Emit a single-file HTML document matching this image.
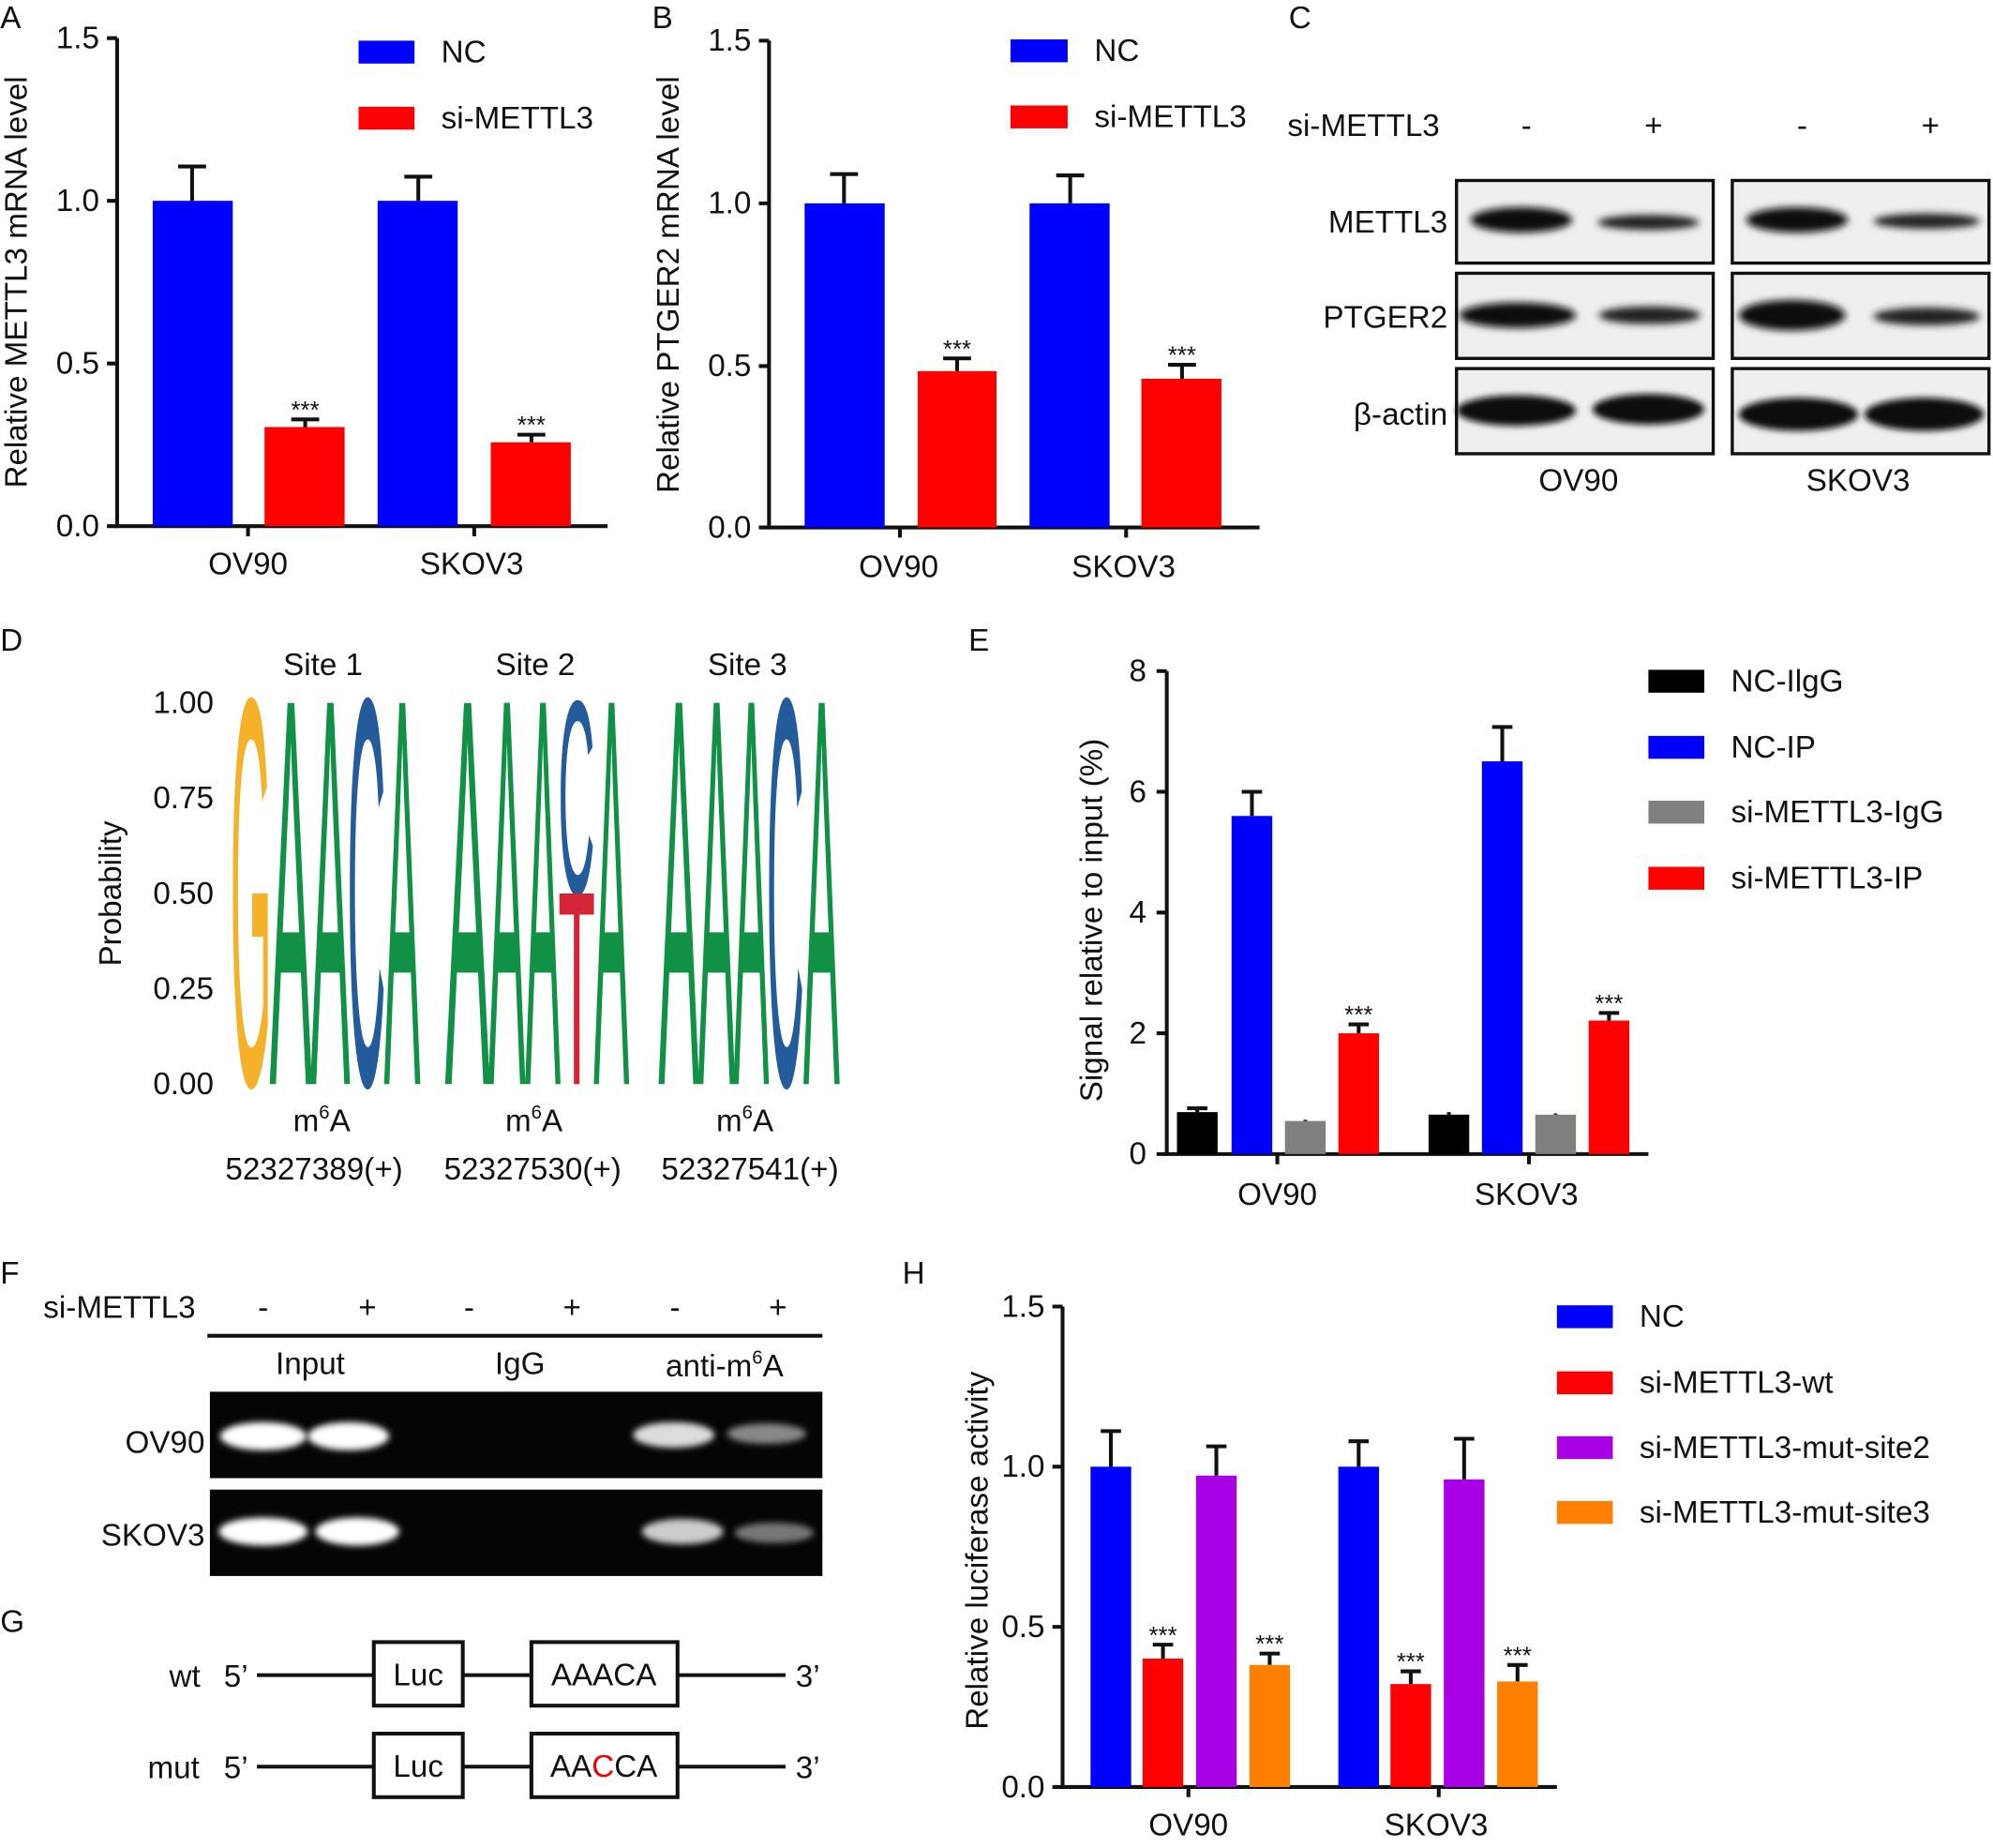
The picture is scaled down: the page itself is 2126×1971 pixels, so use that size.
<!DOCTYPE html>
<html><head><meta charset="utf-8"><style>
html,body{margin:0;padding:0;background:#fff}
svg{display:block}
text{font-family:"Liberation Sans",Arial,sans-serif;fill:#111}
</style></head><body>
<svg width="2126" height="1971" viewBox="0 0 1568 1454" xmlns="http://www.w3.org/2000/svg">
<defs>
<filter id="b1" x="-20%" y="-60%" width="140%" height="220%"><feGaussianBlur stdDeviation="3"/></filter>
<filter id="b2" x="-20%" y="-60%" width="140%" height="220%"><feGaussianBlur stdDeviation="2.5"/></filter>
</defs>
<g font-size="24.5">
<!-- Panel A -->
<text x="0" y="22">A</text>
<g stroke="#111" stroke-width="3" fill="none">
<path d="M92 30V414H478"/>
<path d="M84 30H92M84 158H92M84 286H92M84 414H92M195 414V422M373 414V422"/>
</g>
<g text-anchor="end"><text x="78" y="38">1.5</text><text x="78" y="166">1.0</text><text x="78" y="294">0.5</text><text x="78" y="422">0.0</text></g>
<text transform="translate(21,222) rotate(-90)" text-anchor="middle">Relative METTL3 mRNA level</text>
<g stroke="#111" stroke-width="3"><path d="M151 158V131M140 131H162M329 158V139M318 139H340M240 336V330M229 330H251M418 348V342M407 342H429"/></g>
<rect x="120" y="158" width="63" height="256" fill="#0000ff"/>
<rect x="208" y="336" width="63" height="78" fill="#ff0000"/>
<rect x="297" y="158" width="63" height="256" fill="#0000ff"/>
<rect x="386" y="348" width="63" height="66" fill="#ff0000"/>
<text x="240" y="329" text-anchor="middle" font-size="19">***</text>
<text x="418" y="341" text-anchor="middle" font-size="19">***</text>
<text x="195" y="452" text-anchor="middle">OV90</text><text x="371" y="452" text-anchor="middle">SKOV3</text>
<rect x="282" y="32" width="44" height="18" fill="#0000ff"/><text x="347" y="49">NC</text>
<rect x="282" y="84" width="44" height="18" fill="#ff0000"/><text x="347" y="101">si-METTL3</text>

<!-- Panel B -->
<text x="513" y="22">B</text>
<g stroke="#111" stroke-width="3" fill="none">
<path d="M605 32V415H991"/>
<path d="M597 32H605M597 160H605M597 288H605M597 415H605M708 415V423M886 415V423"/>
</g>
<g text-anchor="end"><text x="591" y="40">1.5</text><text x="591" y="168">1.0</text><text x="591" y="296">0.5</text><text x="591" y="423">0.0</text></g>
<text transform="translate(534,224) rotate(-90)" text-anchor="middle">Relative PTGER2 mRNA level</text>
<g stroke="#111" stroke-width="3"><path d="M664 160V137M653 137H675M842 160V138M831 138H853M753 292V282M742 282H764M930 298V287M919 287H941"/></g>
<rect x="633" y="160" width="63" height="255" fill="#0000ff"/>
<rect x="722" y="292" width="62" height="123" fill="#ff0000"/>
<rect x="810" y="160" width="63" height="255" fill="#0000ff"/>
<rect x="898" y="298" width="63" height="117" fill="#ff0000"/>
<text x="753" y="281" text-anchor="middle" font-size="19">***</text>
<text x="930" y="286" text-anchor="middle" font-size="19">***</text>
<text x="707" y="454" text-anchor="middle">OV90</text><text x="884" y="454" text-anchor="middle">SKOV3</text>
<rect x="795" y="31" width="45" height="18" fill="#0000ff"/><text x="861" y="48">NC</text>
<rect x="795" y="83" width="45" height="18" fill="#ff0000"/><text x="861" y="100">si-METTL3</text>

<!-- Panel C -->
<text x="1014" y="22">C</text>
<text x="1013" y="107">si-METTL3</text>
<text x="1201" y="107" text-anchor="middle">-</text><text x="1301" y="107" text-anchor="middle">+</text>
<text x="1418" y="107" text-anchor="middle">-</text><text x="1519" y="107" text-anchor="middle">+</text>
<g text-anchor="end"><text x="1139" y="183">METTL3</text><text x="1139" y="258">PTGER2</text><text x="1139" y="334">β-actin</text></g>
<g fill="#efefef" stroke="#111" stroke-width="2.5">
<rect x="1146" y="142" width="202" height="65"/><rect x="1363" y="142" width="202" height="65"/>
<rect x="1146" y="215" width="202" height="67"/><rect x="1363" y="215" width="202" height="67"/>
<rect x="1146" y="290" width="202" height="67"/><rect x="1363" y="290" width="202" height="67"/>
</g>
<g fill="#111">
<ellipse cx="1197" cy="173" rx="40" ry="10" filter="url(#b1)"/>
<ellipse cx="1297" cy="175" rx="40" ry="6" filter="url(#b1)" fill="#222"/>
<ellipse cx="1414" cy="173" rx="40" ry="10" filter="url(#b1)"/>
<ellipse cx="1516" cy="174" rx="42" ry="6" filter="url(#b1)" fill="#222"/>
<ellipse cx="1194" cy="248" rx="46" ry="10" filter="url(#b1)"/>
<ellipse cx="1298" cy="248" rx="40" ry="7" filter="url(#b1)" fill="#222"/>
<ellipse cx="1410" cy="248" rx="42" ry="12" filter="url(#b1)"/>
<ellipse cx="1516" cy="249" rx="42" ry="7" filter="url(#b1)" fill="#222"/>
<ellipse cx="1193" cy="323" rx="47" ry="12" filter="url(#b2)"/>
<ellipse cx="1297" cy="322" rx="44" ry="12" filter="url(#b2)"/>
<ellipse cx="1415" cy="326" rx="47" ry="13" filter="url(#b2)"/>
<ellipse cx="1514" cy="326" rx="47" ry="13" filter="url(#b2)"/>
</g>
<text x="1242" y="386" text-anchor="middle">OV90</text><text x="1462" y="386" text-anchor="middle">SKOV3</text>

<!-- Panel D -->
<text x="0" y="512">D</text>
<g text-anchor="middle"><text x="254" y="531">Site 1</text><text x="421" y="531">Site 2</text><text x="588" y="531">Site 3</text></g>
<g text-anchor="end"><text x="168" y="561">1.00</text><text x="168" y="636">0.75</text><text x="168" y="711">0.50</text><text x="168" y="786">0.25</text><text x="168" y="861">0.00</text></g>
<text transform="translate(95,703) rotate(-90)" text-anchor="middle">Probability</text>
<g font-size="100">
<text transform="translate(181,853) scale(0.42,4.36)" style="fill:#f6b12a">G</text>
<text transform="translate(212,853) scale(0.50,4.36)" style="fill:#109146">A</text>
<text transform="translate(244,853) scale(0.47,4.36)" style="fill:#109146">A</text>
<text transform="translate(273,853) scale(0.42,4.36)" style="fill:#245b9b">C</text>
<text transform="translate(302,853) scale(0.43,4.36)" style="fill:#109146">A</text>
<text transform="translate(350,853) scale(0.53,4.36)" style="fill:#109146">A</text>
<text transform="translate(384,853) scale(0.44,4.36)" style="fill:#109146">A</text>
<text transform="translate(413,853) scale(0.42,4.36)" style="fill:#109146">A</text>
<text transform="translate(439,703) scale(0.40,2.18)" style="fill:#245b9b">C</text>
<text transform="translate(439,853) scale(0.48,2.18)" style="fill:#d42536">T</text>
<text transform="translate(467,853) scale(0.42,4.36)" style="fill:#109146">A</text>
<text transform="translate(518,853) scale(0.48,4.36)" style="fill:#109146">A</text>
<text transform="translate(549,853) scale(0.44,4.36)" style="fill:#109146">A</text>
<text transform="translate(577,853) scale(0.42,4.36)" style="fill:#109146">A</text>
<text transform="translate(603,853) scale(0.41,4.36)" style="fill:#245b9b">C</text>
<text transform="translate(632,853) scale(0.43,4.36)" style="fill:#109146">A</text>
</g>
<g text-anchor="middle">
<text x="253" y="890">m<tspan font-size="15" dy="-10">6</tspan><tspan dy="10">A</tspan></text>
<text x="420" y="890">m<tspan font-size="15" dy="-10">6</tspan><tspan dy="10">A</tspan></text>
<text x="586" y="890">m<tspan font-size="15" dy="-10">6</tspan><tspan dy="10">A</tspan></text>
<text x="247" y="928">52327389(+)</text><text x="419" y="928">52327530(+)</text><text x="590" y="928">52327541(+)</text>
</g>

<!-- Panel E -->
<text x="762" y="512">E</text>
<g stroke="#111" stroke-width="3" fill="none">
<path d="M918 528V908H1297"/>
<path d="M910 528H918M910 623H918M910 718H918M910 813H918M910 908H918M1005 908V916M1203 908V916"/>
</g>
<g text-anchor="end"><text x="902" y="536">8</text><text x="902" y="631">6</text><text x="902" y="726">4</text><text x="902" y="821">2</text><text x="902" y="916">0</text></g>
<text transform="translate(867,724) rotate(-90)" text-anchor="middle">Signal relative to input (%)</text>
<g stroke="#111" stroke-width="3"><path d="M942 875V872M934 872H950M985 642V623M977 623H993M1027 882V881M1069 813V806M1061 806H1077M1140 877V875M1182 599V572M1174 572H1190M1224 877V876M1266 803V797M1258 797H1274"/></g>
<rect x="926" y="875" width="32" height="33" fill="#000"/>
<rect x="969" y="642" width="32" height="266" fill="#0000ff"/>
<rect x="1011" y="882" width="32" height="26" fill="#808080"/>
<rect x="1053" y="813" width="32" height="95" fill="#ff0000"/>
<rect x="1124" y="877" width="32" height="31" fill="#000"/>
<rect x="1166" y="599" width="32" height="309" fill="#0000ff"/>
<rect x="1208" y="877" width="32" height="31" fill="#808080"/>
<rect x="1250" y="803" width="32" height="105" fill="#ff0000"/>
<text x="1069" y="805" text-anchor="middle" font-size="19">***</text>
<text x="1266" y="796" text-anchor="middle" font-size="19">***</text>
<text x="1005" y="948" text-anchor="middle">OV90</text><text x="1201" y="948" text-anchor="middle">SKOV3</text>
<rect x="1297" y="527" width="44" height="18" fill="#000"/><text x="1362" y="544">NC-IlgG</text>
<rect x="1297" y="579" width="44" height="18" fill="#0000ff"/><text x="1362" y="596">NC-IP</text>
<rect x="1297" y="630" width="44" height="18" fill="#808080"/><text x="1362" y="647">si-METTL3-IgG</text>
<rect x="1297" y="682" width="44" height="18" fill="#ff0000"/><text x="1362" y="699">si-METTL3-IP</text>

<!-- Panel F -->
<text x="0" y="1010">F</text>
<text x="34" y="1037">si-METTL3</text>
<g text-anchor="middle"><text x="207" y="1037">-</text><text x="289" y="1037">+</text><text x="369" y="1037">-</text><text x="450" y="1037">+</text><text x="531" y="1037">-</text><text x="612" y="1037">+</text></g>
<path d="M163 1051H647" stroke="#111" stroke-width="3"/>
<g text-anchor="middle"><text x="244" y="1081">Input</text><text x="409" y="1081">IgG</text>
<text x="570" y="1083">anti-m<tspan font-size="15" dy="-10">6</tspan><tspan dy="10">A</tspan></text></g>
<g text-anchor="end"><text x="161" y="1143">OV90</text><text x="161" y="1216">SKOV3</text></g>
<rect x="165" y="1095" width="482" height="68" fill="#050505"/>
<rect x="165" y="1172" width="482" height="68" fill="#050505"/>
<g fill="#fff">
<ellipse cx="207" cy="1130" rx="34" ry="11" filter="url(#b2)"/>
<ellipse cx="274" cy="1130" rx="32" ry="11" filter="url(#b2)"/>
<ellipse cx="530" cy="1129" rx="32" ry="10" filter="url(#b2)" fill="#ddd"/>
<ellipse cx="603" cy="1128" rx="31" ry="8" filter="url(#b2)" fill="#888"/>
<ellipse cx="207" cy="1205" rx="35" ry="11" filter="url(#b2)"/>
<ellipse cx="281" cy="1205" rx="33" ry="11" filter="url(#b2)"/>
<ellipse cx="537" cy="1205" rx="32" ry="10" filter="url(#b2)" fill="#ccc"/>
<ellipse cx="609" cy="1206" rx="31" ry="8" filter="url(#b2)" fill="#777"/>
</g>

<!-- Panel G -->
<text x="0" y="1284">G</text>
<g stroke="#111" stroke-width="3" fill="none">
<path d="M202 1318H294M364 1318H418M533 1318H618M202 1390H294M364 1390H418M533 1390H618"/>
<rect x="294" y="1292" width="70" height="50"/><rect x="418" y="1292" width="115" height="50"/>
<rect x="294" y="1364" width="70" height="50"/><rect x="418" y="1364" width="115" height="50"/>
</g>
<text x="133" y="1327">wt</text><text x="176" y="1327">5’</text><text x="626" y="1327">3’</text>
<text x="116" y="1399">mut</text><text x="176" y="1399">5’</text><text x="626" y="1399">3’</text>
<g text-anchor="middle"><text x="329" y="1326">Luc</text><text x="475" y="1326">AAACA</text>
<text x="329" y="1398">Luc</text><text x="475" y="1398">AA<tspan style="fill:#e00">C</tspan>CA</text></g>

<!-- Panel H -->
<text x="710" y="1010">H</text>
<g stroke="#111" stroke-width="3" fill="none">
<path d="M836 1028V1406H1225"/>
<path d="M828 1028H836M828 1154H836M828 1280H836M828 1406H836M935 1406V1414M1132 1406V1414"/>
</g>
<g text-anchor="end"><text x="822" y="1036">1.5</text><text x="822" y="1162">1.0</text><text x="822" y="1288">0.5</text><text x="822" y="1414">0.0</text></g>
<text transform="translate(777,1220) rotate(-90)" text-anchor="middle">Relative luciferase activity</text>
<g stroke="#111" stroke-width="3"><path d="M874 1154V1126M866 1126H882M915 1305V1294M907 1294H923M957 1161V1138M949 1138H965M999 1310V1301M991 1301H1007M1069 1154V1134M1061 1134H1077M1110 1325V1315M1102 1315H1118M1152 1164V1132M1144 1132H1160M1194 1323V1310M1186 1310H1202"/></g>
<rect x="858" y="1154" width="32" height="252" fill="#0000ff"/>
<rect x="899" y="1305" width="32" height="101" fill="#ff0000"/>
<rect x="941" y="1161" width="32" height="245" fill="#aa00e6"/>
<rect x="983" y="1310" width="32" height="96" fill="#ff8000"/>
<rect x="1053" y="1154" width="32" height="252" fill="#0000ff"/>
<rect x="1094" y="1325" width="32" height="81" fill="#ff0000"/>
<rect x="1136" y="1164" width="32" height="242" fill="#aa00e6"/>
<rect x="1178" y="1323" width="32" height="83" fill="#ff8000"/>
<g text-anchor="middle" font-size="19"><text x="915" y="1293">***</text><text x="999" y="1300">***</text><text x="1110" y="1314">***</text><text x="1194" y="1309">***</text></g>
<text x="935" y="1444" text-anchor="middle">OV90</text><text x="1130" y="1444" text-anchor="middle">SKOV3</text>
<rect x="1225" y="1027" width="44" height="18" fill="#0000ff"/><text x="1290" y="1044">NC</text>
<rect x="1225" y="1079" width="44" height="18" fill="#ff0000"/><text x="1290" y="1096">si-METTL3-wt</text>
<rect x="1225" y="1130" width="44" height="18" fill="#aa00e6"/><text x="1290" y="1147">si-METTL3-mut-site2</text>
<rect x="1225" y="1181" width="44" height="18" fill="#ff8000"/><text x="1290" y="1198">si-METTL3-mut-site3</text>
</g>
</svg>
</body></html>
